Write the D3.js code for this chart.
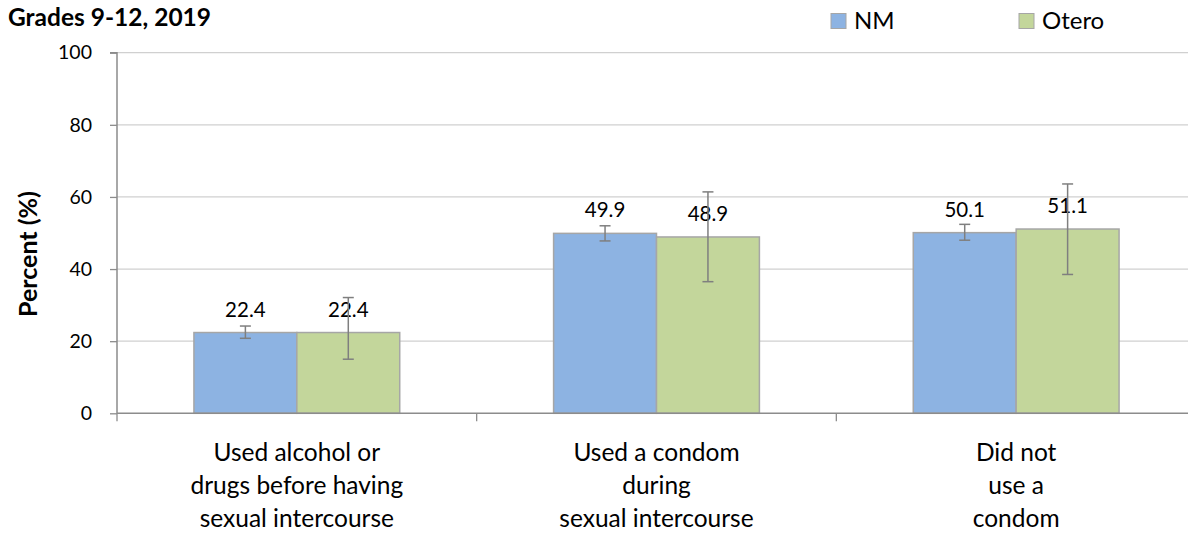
<!DOCTYPE html>
<html><head><meta charset="utf-8">
<script src="https://cdn.jsdelivr.net/npm/d3@7"></script>
<style>body{margin:0;background:#fff}svg{display:block}text{font-family:Lato,"Open Sans",sans-serif}</style>
</head><body><svg id="c" width="1188" height="533"></svg>
<script>
const categories = [
  ["Used alcohol or","drugs before having","sexual intercourse"],
  ["Used a condom","during","sexual intercourse"],
  ["Did not","use a","condom"]
];
const seriesNames = ["NM","Otero"];
const nmValues = [22.4, 49.9, 50.1];
const oteroValues = [22.4, 48.9, 51.1];
const nmLow = [20.8, 47.8, 48.0];
const nmHigh = [24.2, 52.0, 52.4];
const oteroLow = [15.0, 36.5, 38.5];
const oteroHigh = [32.1, 61.4, 63.6];
const yTicks = [0,20,40,60,80,100];
const title = "Grades 9-12, 2019";
const yTitle = "Percent (%)";
const colors = ["#8DB3E2","#C3D69B"];

(function(){
const svg = d3.select("#c");
const pL = 117, pR = 1196, pT = 52.7, pB = 413.3;
const x = d3.scaleBand().domain(d3.range(categories.length)).range([pL,pR]).paddingInner(0).paddingOuter(0);
const y = d3.scaleLinear().domain([0,100]).range([pB, pT]);
const barW = x.bandwidth()*103/360;

// gridlines
svg.append("g").selectAll("line").data(yTicks.filter(d=>d>0)).join("line")
  .attr("x1",pL).attr("x2",1188).attr("y1",d=>y(d)).attr("y2",d=>y(d))
  .attr("stroke","#D0D0D0").attr("stroke-width",1.3);

// y axis
const yAxis = d3.axisLeft(y).tickValues(yTicks).tickSize(7).tickPadding(18);
const ga = svg.append("g").attr("transform",`translate(${pL},0)`).call(yAxis);
ga.select(".domain").attr("stroke","#8C8C8C").attr("stroke-width",1.5).attr("d",`M-7,${y(100)}H0V${y(0)}`);
ga.selectAll(".tick line").attr("stroke","#8C8C8C").attr("stroke-width",1.3);
ga.selectAll(".tick text").attr("font-size",19.5).attr("fill","#000").attr("font-family","Lato");

const data = seriesNames.map((s,si)=>({name:s, vals: si===0?nmValues:oteroValues, lo: si===0?nmLow:oteroLow, hi: si===0?nmHigh:oteroHigh, color: colors[si]}));

data.forEach((s,si)=>{
  const g = svg.append("g");
  const bx = i => x(i) + x.bandwidth()/2 + (si-1)*barW;
  g.selectAll("rect").data(s.vals).join("rect")
    .attr("x",(d,i)=>bx(i)).attr("width",barW)
    .attr("y",d=>y(d)).attr("height",d=>y(0)-y(d))
    .attr("fill",s.color).attr("stroke","#A6A6A6").attr("stroke-width",1.5);
});

// x axis
svg.append("line").attr("x1",pL).attr("x2",1188).attr("y1",y(0)).attr("y2",y(0)).attr("stroke","#8C8C8C").attr("stroke-width",1.5);
svg.append("g").selectAll("line").data(d3.range(categories.length+1)).join("line")
  .attr("x1",i=>pL+i*x.bandwidth()).attr("x2",i=>pL+i*x.bandwidth())
  .attr("y1",y(0)).attr("y2",y(0)+8).attr("stroke","#8C8C8C").attr("stroke-width",1.3);

// error bars and labels
data.forEach((s,si)=>{
  const g = svg.append("g");
  const cx = i => x(i) + x.bandwidth()/2 + (si-0.5)*barW;
  s.vals.forEach((v,i)=>{
    g.append("text").attr("x",cx(i)).attr("y",y(v)-16).attr("text-anchor","middle").attr("font-size",20.5).attr("fill","#000").text(v.toFixed(1));
  });
  s.vals.forEach((v,i)=>{
    const c = cx(i);
    g.append("line").attr("x1",c).attr("x2",c).attr("y1",y(s.lo[i])).attr("y2",y(s.hi[i])).attr("stroke","#7F7F7F").attr("stroke-width",1.5);
    [s.lo[i],s.hi[i]].forEach(e=>g.append("line").attr("x1",c-5.5).attr("x2",c+5.5).attr("y1",y(e)).attr("y2",y(e)).attr("stroke","#7F7F7F").attr("stroke-width",1.5));
  });
});

// category labels
categories.forEach((lines,i)=>{
  const t = svg.append("text").attr("text-anchor","middle").attr("font-size",24.5).attr("fill","#000");
  lines.forEach((l,j)=>t.append("tspan").attr("x",x(i)+x.bandwidth()/2).attr("y",461+j*33).text(l));
});

// title
svg.append("text").attr("x",8).attr("y",26).attr("font-size",24.5).attr("font-weight","bold").attr("fill","#000").text(title);
// y title
svg.append("text").attr("transform","translate(37,254) rotate(-90)").attr("text-anchor","middle").attr("font-size",25).attr("font-weight","bold").attr("fill","#000").text(yTitle);

// legend
const legX = [831, 1019];
seriesNames.forEach((n,i)=>{
  svg.append("rect").attr("x",legX[i]).attr("y",13.5).attr("width",15).attr("height",15).attr("fill",colors[i]).attr("stroke","#A6A6A6").attr("stroke-width",1);
  svg.append("text").attr("x",legX[i]+23).attr("y",29).attr("font-size",24).attr("fill","#000").text(n);
});
})();
</script></body></html>
